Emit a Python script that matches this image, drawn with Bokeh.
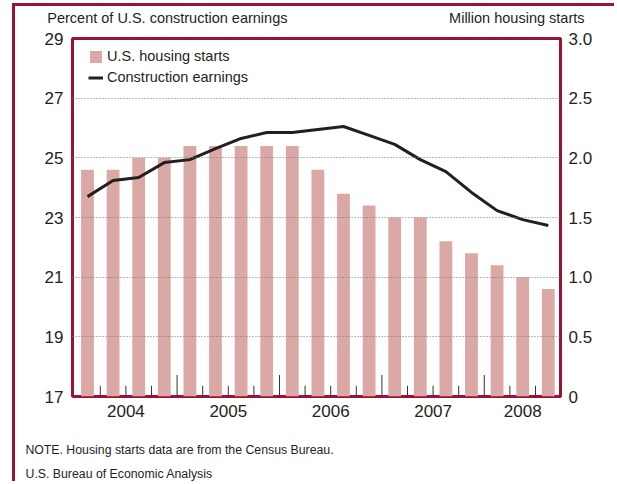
from bokeh.plotting import figure
from bokeh.models import Range1d, LinearAxis, FixedTicker, Legend, LegendItem
from bokeh.embed import file_html
from bokeh.resources import INLINE

# ---- data ----
quarters = ["2004Q1", "2004Q2", "2004Q3", "2004Q4",
            "2005Q1", "2005Q2", "2005Q3", "2005Q4",
            "2006Q1", "2006Q2", "2006Q3", "2006Q4",
            "2007Q1", "2007Q2", "2007Q3", "2007Q4",
            "2008Q1", "2008Q2", "2008Q3"]
housing_starts = [1.9, 1.9, 2.0, 2.0, 2.1, 2.1, 2.1, 2.1, 2.1, 1.9,
                  1.7, 1.6, 1.5, 1.5, 1.3, 1.2, 1.1, 1.0, 0.9]
construction_earnings = [23.70, 24.24, 24.34, 24.84, 24.94, 25.31, 25.65, 25.85, 25.85, 25.95,
                         26.05, 25.75, 25.45, 24.94, 24.54, 23.84, 23.23, 22.93, 22.73]
left_ticks = [17, 19, 21, 23, 25, 27, 29]
grid_ticks = [19, 21, 23, 25, 27]
right_ticks = [0, 0.5, 1.0, 1.5, 2.0, 2.5, 3.0]
right_tick_labels = ["0", "0.5", "1.0", "1.5", "2.0", "2.5", "3.0"]
years = ["2004", "2005", "2006", "2007", "2008"]
left_title = "Percent of U.S. construction earnings"
right_title = "Million housing starts"
note_line = "NOTE. Housing starts data are from the Census Bureau."
source_line = "U.S. Bureau of Economic Analysis"

# ---- style ----
FONT = "Liberation Sans"
TXT = "#231f20"
CRIMSON = "#9b1237"
BAR = "#dba9a5"

n = len(quarters)
idx = list(range(n))

p = figure(width=602, height=478, output_backend="svg", toolbar_location=None,
           x_range=Range1d(-0.586, n - 1 + 0.477), y_range=Range1d(17, 29),
           min_border_left=57, min_border_right=57, min_border_top=32, min_border_bottom=88)
p.extra_y_ranges = {"starts": Range1d(0, 3)}
# page rules at left and top
p.styles = {"margin-left": "12px", "margin-top": "3px",
            "border-left": f"3px solid {CRIMSON}", "border-top": f"3px solid {CRIMSON}"}

p.outline_line_color = CRIMSON
p.outline_line_width = 3
p.outline_line_alpha = 1

# grid
p.xgrid.visible = False
p.ygrid.ticker = FixedTicker(ticks=grid_ticks)
p.ygrid.grid_line_color = "#777777"
p.ygrid.grid_line_dash = "1 2"
p.ygrid.grid_line_width = 1
p.ygrid.level = "overlay"

# bars & line
bars = p.vbar(x=idx, top=housing_starts, bottom=0, width=0.5, y_range_name="starts",
              fill_color=BAR, line_color=None)
line = p.line(idx, construction_earnings, line_width=3, line_color=TXT, line_join="round")

# quarter boundary ticks inside the frame (taller at year boundaries)
bx, btop = [], []
for i in range(n - 1):
    bx.append(i + 0.5)
    btop.append(0.18 if quarters[i + 1].endswith("Q1") else 0.09)
p.segment(x0=bx, y0=[0] * len(bx), x1=bx, y1=btop, y_range_name="starts",
          line_color="#333333", line_width=1)

# year positions: middle of each year's quarters
year_pos = []
for y in years:
    ids = [i for i, q in enumerate(quarters) if q.startswith(y)]
    year_pos.append((ids[0] + ids[-1]) / 2)


def style_axis(ax, size="17px"):
    ax.axis_line_color = None
    ax.major_tick_line_color = None
    ax.minor_tick_line_color = None
    ax.major_tick_out = 0
    ax.major_tick_in = 0
    ax.major_label_text_font = FONT
    ax.major_label_text_font_size = size
    ax.major_label_text_color = TXT


def caption_axis(labels, positions, size, standoff, place):
    ax = LinearAxis(ticker=FixedTicker(ticks=positions))
    ax.major_label_overrides = {pos: lab for pos, lab in zip(positions, labels)}
    style_axis(ax, size)
    ax.major_label_standoff = standoff
    p.add_layout(ax, place)
    return ax


xa = p.xaxis[0]
xa.ticker = FixedTicker(ticks=year_pos)
xa.major_label_overrides = {pos: y for pos, y in zip(year_pos, years)}
style_axis(xa)
xa.major_label_standoff = 8

ya = p.yaxis[0]
ya.ticker = FixedTicker(ticks=left_ticks)
style_axis(ya)
ya.major_label_standoff = 9

ra = LinearAxis(y_range_name="starts", ticker=FixedTicker(ticks=right_ticks))
ra.major_label_overrides = {v: s for v, s in zip(right_ticks, right_tick_labels)}
style_axis(ra)
ra.major_label_standoff = 8
p.add_layout(ra, "right")

# unit captions above the frame and notes below it, carried by label-only axes
caption_axis([left_title, right_title], [3.12, 16.77], "14.5px", 13, "above")
caption_axis([note_line], [3.594], "12.3px", 23, "below")
caption_axis([source_line], [1.236], "12.3px", 7, "below")

# legend
legend = Legend(items=[LegendItem(label="U.S. housing starts", renderers=[bars]),
                       LegendItem(label="Construction earnings", renderers=[line])],
                location=(16, 309), padding=0, margin=0, border_line_color=None,
                background_fill_alpha=0, label_text_font=FONT, label_text_font_size="14.5px",
                label_text_color=TXT, glyph_width=15, glyph_height=15, label_height=20,
                label_standoff=4, spacing=1)
p.add_layout(legend)

open("out.html", "w").write(file_html(p, INLINE))
